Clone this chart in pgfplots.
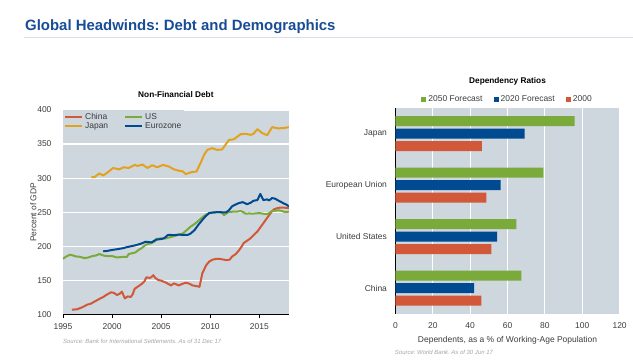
\documentclass[border=0pt]{standalone}
\usepackage{pgfplots}
\pgfplotsset{compat=1.18}
\usepackage{fontspec}
\setmainfont{Liberation Sans}
\frenchspacing
\definecolor{bgc}{RGB}{206,214,222}
\definecolor{titleblue}{RGB}{24,76,150}
\definecolor{linec}{RGB}{214,222,232}
\definecolor{cgreen}{RGB}{122,170,58}
\definecolor{cblue}{RGB}{0,74,145}
\definecolor{cred}{RGB}{210,88,58}
\definecolor{cgold}{RGB}{226,162,30}
\definecolor{txt}{RGB}{60,60,60}
\definecolor{src}{RGB}{165,165,170}
\begin{document}
\begin{tikzpicture}
\path (0bp,0bp) rectangle (633bp,363bp);
\node[anchor=base west, font=\bfseries\fontsize{15}{18}\selectfont, color=titleblue, inner sep=0pt] at (25bp,332.3bp) {Global Headwinds: Debt and Demographics};
\draw[color=linec, line width=0.8bp] (24bp,325.3bp) -- (633bp,325.3bp);

% ---------------- Left chart
\begin{axis}[
  at={(63bp,48bp)}, anchor=south west, scale only axis,
  width=226bp, height=205bp,
  xmin=1995, xmax=2018, ymin=100, ymax=400,
  axis background/.style={fill=bgc},
  axis x line*=bottom, axis y line*=left,
  x axis line style={black, line width=1bp, -},
  y axis line style={draw=none},
  xtick={1995,2000,2005,2010,2015},
  ytick={100,150,...,400},
  ymajorgrids, grid style={white, line width=1.2bp},
  ytick style={draw=none},
  xtick style={black, line width=0.8bp},
  tick align=outside, major tick length=3bp,
  /pgf/number format/assume math mode=true,
  /pgf/number format/1000 sep={},
  tick label style={font=\fontsize{8.5}{10}\selectfont, text=txt},
  yticklabel style={xshift=-5bp},
  xticklabel style={yshift=-2bp},
  ylabel={Percent of GDP},
  ylabel style={font=\fontsize{8.5}{10}\selectfont, text=txt, yshift=-6bp},
  title={Non-Financial Debt},
  title style={font=\bfseries\fontsize{8.3}{9}\selectfont, anchor=base, at={(0.5,1)}, yshift=6.5bp, inner sep=0pt},
  legend style={at={(0,1)}, anchor=north west, fill=bgc, draw=none, font=\fontsize{8.5}{10}\selectfont, text=txt, inner sep=1bp, row sep=-2bp},
  legend columns=2, legend cell align=left,
  /tikz/every even column/.append style={column sep=14bp},
  every axis plot/.append style={line width=2bp, line join=round},
]
\addplot[cred] coordinates {(1995.9,107.5)(1996.4,108)(1996.8,110)(1997.1,112)(1997.5,115)(1997.8,116)(1998.3,120)(1998.8,124)(1999.1,126)(1999.4,129)(1999.9,133)(2000.2,132)(2000.5,129)(2000.8,131)(2001.0,134)(2001.3,124)(2001.6,127)(2001.9,126)(2002.1,130)(2002.3,138)(2002.6,141)(2003.0,145)(2003.3,149)(2003.5,155)(2003.8,154)(2004.0,155)(2004.2,158)(2004.4,154)(2004.7,151)(2005.0,150)(2005.5,147)(2006.0,143)(2006.3,146)(2006.8,143)(2007.1,145)(2007.5,147)(2007.8,146)(2008.2,143)(2008.6,142)(2008.9,141)(2009.2,161)(2009.6,173)(2009.9,178)(2010.2,180.5)(2010.6,182)(2010.9,182)(2011.3,181)(2011.7,180)(2012.0,181)(2012.2,185)(2012.6,189)(2012.9,194)(2013.2,200)(2013.4,205)(2013.8,209)(2014.1,212)(2014.5,218)(2014.8,222)(2015.1,228)(2015.4,234)(2015.7,240)(2016.0,246)(2016.3,252)(2016.5,254.5)(2016.8,256)(2017.1,257)(2017.5,257)(2018,256)};
\addlegendentry{China}
\addplot[cgreen] coordinates {(1995.0,182)(1995.3,185)(1995.7,188)(1996.0,187)(1996.3,185.5)(1996.7,185)(1997.2,183)(1997.6,184)(1998.0,186)(1998.4,187)(1998.7,189)(1999.2,186.5)(1999.6,186)(2000.0,186)(2000.5,184)(2000.9,184.5)(2001.2,185)(2001.5,184.5)(2001.7,189)(2002.0,190)(2002.4,191.5)(2002.7,195)(2003.0,197.5)(2003.3,201)(2003.5,203)(2004.0,205)(2004.3,207)(2004.5,211)(2005.0,212)(2005.5,212)(2006.0,214)(2006.5,216)(2007.2,219)(2007.6,224)(2008.0,229)(2008.2,231)(2008.5,234)(2008.9,239)(2009.3,244)(2009.6,247)(2009.9,249)(2010.4,250)(2010.9,250.5)(2011.2,249)(2011.4,246)(2011.7,249)(2011.9,250.5)(2012.3,251)(2012.7,251)(2013.1,252)(2013.4,250)(2013.6,248)(2014.0,248.5)(2014.3,248)(2014.6,248.5)(2015.0,249)(2015.4,248)(2015.8,247.5)(2016.1,250)(2016.3,252)(2016.7,252.5)(2017.0,253)(2017.3,252)(2017.6,250.5)(2018,251)};
\addlegendentry{US}
\addplot[cgold] coordinates {(1997.9,301.5)(1998.2,301.5)(1998.7,307)(1999.1,304)(1999.6,309)(2000.1,315)(2000.7,313)(2001.2,316)(2001.7,315)(2002.3,319.5)(2002.6,318)(2003.1,320)(2003.6,315)(2004.1,319)(2004.6,316)(2005.2,319.5)(2005.8,317)(2006.3,313)(2006.8,311)(2007.2,310)(2007.5,306)(2008.1,309)(2008.6,309.8)(2009.0,322)(2009.4,335)(2009.7,341.5)(2010.2,344)(2010.7,341.5)(2011.2,342)(2011.6,350)(2011.9,356)(2012.4,357)(2013.1,364.5)(2013.6,365)(2014.1,363.6)(2014.4,365)(2014.8,371.8)(2015.3,366)(2015.8,363)(2016.3,374.8)(2016.9,373)(2017.5,373.5)(2018,374.8)};
\addlegendentry{Japan}
\addplot[cblue] coordinates {(1999.1,193)(1999.5,193.5)(2000.0,195)(2000.5,196)(2001.1,197.5)(2001.5,199)(2001.8,200)(2002.3,201.5)(2002.8,203.5)(2003.1,205)(2003.4,207)(2003.8,206.5)(2004.0,206)(2004.5,210)(2005.0,211)(2005.3,212)(2005.7,217)(2006.0,217)(2006.3,216.5)(2006.8,217.5)(2007.2,217)(2007.7,217)(2008.0,219)(2008.4,224)(2008.8,232)(2009.2,239)(2009.5,244)(2009.9,249)(2010.4,250)(2010.9,250.5)(2011.3,250)(2011.6,250)(2011.9,253)(2012.2,258.6)(2012.5,261)(2012.9,263.5)(2013.3,265)(2013.75,262)(2014.1,264)(2014.4,267)(2014.8,268)(2015.1,277)(2015.4,268)(2015.8,269)(2016.0,267.5)(2016.3,271)(2016.6,270)(2017.1,266)(2017.5,263)(2017.8,261)(2018,258.6)};
\addlegendentry{Eurozone}
\end{axis}

% ---------------- Right chart
\begin{axis}[
  at={(395.7bp,49bp)}, anchor=south west, scale only axis,
  width=224.3bp, height=206bp,
  xmin=0, xmax=120, ymin=-0.5, ymax=3.5,
  axis background/.style={fill=bgc},
  axis x line*=bottom, axis y line*=left,
  x axis line style={draw=none},
  y axis line style={black, line width=1.4bp, -},
  xtick={0,20,...,120},
  ytick={0,1,2,3},
  yticklabels={China, United States, European Union, Japan},
  extra y ticks={-0.5,0.5,1.5,2.5,3.5},
  extra y tick labels={},
  extra y tick style={major tick length=4bp, tick align=outside, tick style={black, line width=1bp}, grid=none},
  xmajorgrids, grid style={white, line width=1.2bp},
  xtick style={draw=none}, ytick style={draw=none},
  /pgf/number format/assume math mode=true,
  tick label style={font=\fontsize{8.5}{10}\selectfont, text=txt},
  yticklabel style={xshift=-5bp},
  xticklabel style={yshift=-5bp},
  xlabel={Dependents, as a \% of Working-Age Population},
  xlabel style={font=\fontsize{8.5}{10}\selectfont, text=txt, yshift=-1.5bp},
  title={Dependency Ratios},
  title style={font=\bfseries\fontsize{8.3}{9}\selectfont, anchor=base, at={(0.5,1)}, yshift=18.5bp, inner sep=0pt},
  legend style={at={(0.5,1)}, anchor=south, yshift=1.5bp, draw=none, fill=none, font=\fontsize{8.5}{10}\selectfont, text=txt, inner sep=1bp},
  legend columns=3,
  /tikz/every even column/.append style={column sep=9bp},
  legend image code/.code={\fill[#1] (0bp,-2.6bp) rectangle (5.2bp,2.6bp);},
  bar width=10bp,
]
\addplot[xbar, bar shift=12.5bp, fill=cgreen, draw=none] coordinates {(67.4,0)(64.7,1)(79.2,2)(95.9,3)};
\addlegendentry{2050 Forecast}
\addplot[xbar, bar shift=0bp, fill=cblue, draw=none] coordinates {(42.1,0)(54.4,1)(56.3,2)(69.2,3)};
\addlegendentry{2020 Forecast}
\addplot[xbar, bar shift=-12.5bp, fill=cred, draw=none] coordinates {(46.0,0)(51.4,1)(48.7,2)(46.3,3)};
\addlegendentry{2000}
\end{axis}

\node[anchor=base west, font=\itshape\fontsize{6}{7}\selectfont, color=src, inner sep=0pt] at (63bp,19.7bp) {Source: Bank for International Settlements. As of 31 Dec 17};
\node[anchor=base west, font=\itshape\fontsize{6}{7}\selectfont, color=src, inner sep=0pt] at (395bp,8bp) {Source: World Bank. As of 30 Jun 17};
\end{tikzpicture}
\end{document}
